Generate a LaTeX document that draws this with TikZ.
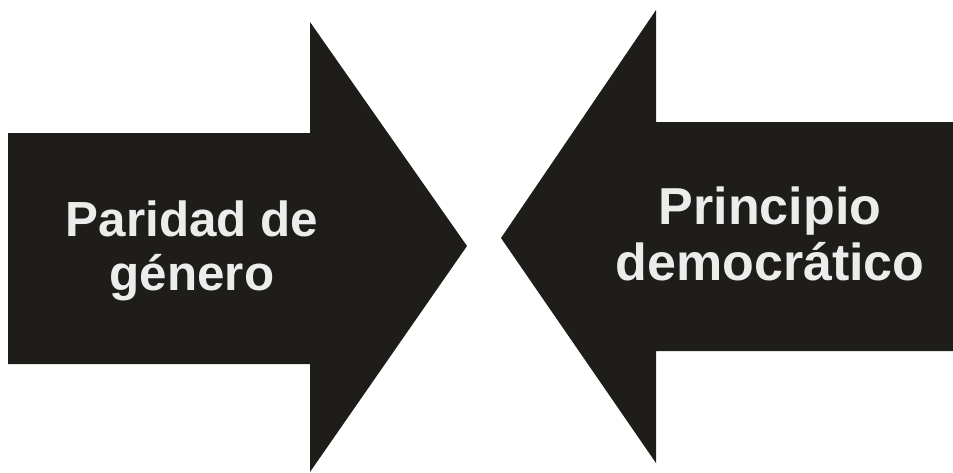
\documentclass[tikz,border=0pt]{standalone}
\usepackage{fontspec}
\setmainfont{Liberation Sans}
\usepackage{tikz}
\usepackage{xcolor}

\definecolor{arrowfill}{RGB}{31,29,25}
\definecolor{arrowtext}{RGB}{236,236,236}

\tikzset{
   arrowshape/.style={fill=arrowfill},
   arrowlabel/.style={text=arrowtext, align=center, font=\bfseries, inner sep=0pt}
}

\begin{document}
\begin{tikzpicture}[x=0.75pt,y=-0.75pt]
      \useasboundingbox (0,0) rectangle (953,472);
      % left arrow, pointing right
      \fill[arrowshape] (8,133) -- (310,133) -- (310,22) -- (467,246)
         -- (310,472) -- (310,364) -- (8,364) -- cycle;
      % right arrow, pointing left
      \fill[arrowshape] (953,122) -- (656,122) -- (656,10) -- (501,238)
         -- (656,463) -- (656,351) -- (953,351) -- cycle;
      \node[arrowlabel, font=\fontsize{37}{41}\selectfont\bfseries] (paridad) at (192,251) {Paridad de\\género};
      \node[arrowlabel, font=\fontsize{39}{41.5}\selectfont\bfseries] (principio) at (770,234) {Principio\\democrático};
   \end{tikzpicture}
\end{document}
